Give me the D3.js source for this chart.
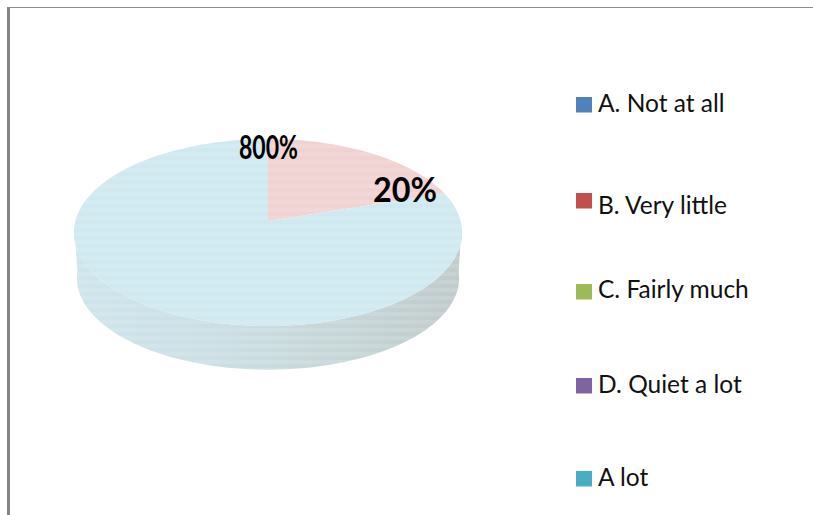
<!DOCTYPE html>
<html>
<head>
<meta charset="utf-8">
<script src="https://cdn.jsdelivr.net/npm/d3@7"></script>
<style>
html,body{margin:0;padding:0;background:#fff;overflow:hidden}
svg{display:block}
text{font-family:Lato,"Open Sans",sans-serif}
</style>
</head>
<body>
<svg id="c" width="813" height="515"></svg>
<script>
// Data
const categories = ["A. Not at all","B. Very little","C. Fairly much","D. Quiet a lot","A lot"];
const values = [0,20,0,0,80];
const colors = ["#4f81bd","#c0504d","#9bbb59","#8064a2","#4bacc6"];
const sliceLabels = ["","20%","","","800%"];

const svg = d3.select("#c");
const W = 813, H = 515;

// frame
svg.append("rect").attr("x",7).attr("y",7).attr("width",3).attr("height",H-7).attr("fill","#858585");
svg.append("rect").attr("x",7).attr("y",7).attr("width",W-7).attr("height",1).attr("fill","#8c8c8c");

const defs = svg.append("defs");
const grad = defs.append("linearGradient").attr("id","wall")
  .attr("gradientUnits","userSpaceOnUse").attr("x1",74).attr("x2",462).attr("y1",0).attr("y2",0);
[[0,"#cfe5ec"],[0.35,"#cbdfe5"],[0.62,"#c8d8da"],[1,"#c0cbcb"]].forEach(s=>
  grad.append("stop").attr("offset",s[0]).attr("stop-color",s[1]));
const pat = defs.append("pattern").attr("id","stripes").attr("patternUnits","userSpaceOnUse")
  .attr("width",8).attr("height",8);
pat.append("rect").attr("width",8).attr("height",4).attr("fill","#fff").attr("fill-opacity",0.11);

// tilted disc: unit circle seen in perspective
const apexX = 268, apexY = 221, kx = 192.6, ky = 92.1, persp = -0.123;
function project(a, r){
  const x = r*Math.sin(a), y = -r*Math.cos(a), w = 1 + persp*y;
  return [apexX + kx*x/w, apexY + ky*y/w];
}
const topCx = 268, topCy = 232.5;
const lowerScaleX = 0.985, lowerScaleY = 0.98, lowerCy = 278;
function lower(p){
  return [topCx + (p[0]-topCx)*lowerScaleX, lowerCy + (p[1]-topCy)*lowerScaleY];
}
const line = d3.line();
const steps = 180;
function arcAngles(a0,a1){
  const n = Math.max(2, Math.ceil(steps*Math.abs(a1-a0)/(2*Math.PI)));
  return d3.range(n+1).map(i=>a0+(a1-a0)*i/n);
}

const pieGen = d3.pie().sort(null).value(d=>d);
const arcs = pieGen(values);

// side wall
const rightA = Math.PI/2 + 0.05, leftA = 3*Math.PI/2 - 0.05;
const front = arcAngles(rightA,leftA).map(a=>project(a,1));
const wallPts = front.concat(front.slice().reverse().map(lower));
svg.append("path").attr("d",line(wallPts)+"Z").attr("fill","url(#wall)");
svg.append("path").attr("d",line(wallPts)+"Z").attr("fill","url(#stripes)");

// top slices
const slices = svg.append("g");
arcs.filter(d=>d.value>0).forEach(d=>{
  const i = d.index;
  const pts = [[apexX,apexY]].concat(arcAngles(d.startAngle,d.endAngle).map(a=>project(a,1)));
  slices.append("path").attr("d",line(pts)+"Z").attr("fill",d3.interpolateRgb("#fff",colors[i])(0.26));
  slices.append("path").attr("d",line(pts)+"Z").attr("fill","url(#stripes)");
});

// slice labels
svg.append("text").attr("x",373).attr("y",202).attr("font-size",34).attr("font-weight",700)
  .attr("textLength",64).attr("lengthAdjust","spacingAndGlyphs").attr("fill","#000").text(sliceLabels[1]);
svg.append("text").attr("x",239).attr("y",159).attr("font-size",33).attr("font-weight",700)
  .attr("textLength",59).attr("lengthAdjust","spacingAndGlyphs").attr("fill","#000").text(sliceLabels[4]);

// legend
const swatchY = [97,193,284,378,471];
const baseY = [112,214,298,393,486];
const legend = svg.append("g");
categories.forEach((c,i)=>{
  legend.append("rect").attr("x",576).attr("y",swatchY[i]).attr("width",16).attr("height",15.5).attr("fill",colors[i]);
  legend.append("text").attr("x",598).attr("y",baseY[i]).attr("font-size",24.5).attr("fill","#111").text(c);
});
</script>
</body>
</html>
